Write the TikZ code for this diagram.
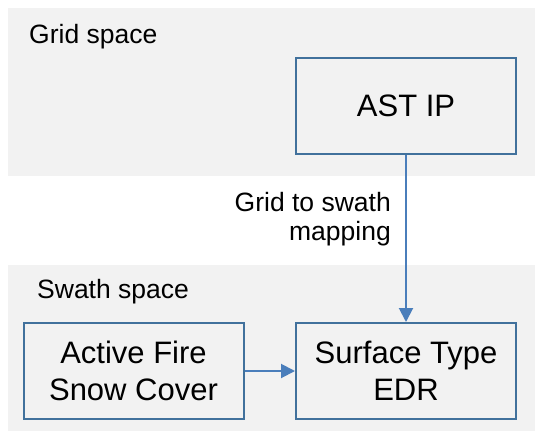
\documentclass[tikz,border=0pt]{standalone}
\usepackage{fontspec}
\setmainfont{Liberation Sans}
\usetikzlibrary{arrows.meta}
\definecolor{bg}{HTML}{F2F2F2}
\definecolor{boxline}{HTML}{41719C}
\definecolor{arrowblue}{HTML}{4A7EBB}
\tikzset{
  region/.style={fill=bg, draw=none},
  procbox/.style={draw=boxline, line width=2pt, fill=bg, minimum width=220pt, minimum height=96pt, align=center, inner sep=0pt, font=\fontsize{31}{37.5}\selectfont},
  smalllabel/.style={inner sep=0pt, font=\fontsize{26.5}{28.5}\selectfont},
  flow/.style={draw=arrowblue, line width=2pt, -{Triangle[length=14pt,width=14pt]}}
}
\begin{document}
\begin{tikzpicture}[x=1pt,y=-1pt]
\useasboundingbox (0,0) rectangle (535,434);
\fill[region] (8,8) rectangle (535,176);
\fill[region] (8,265) rectangle (535,431);
\node[smalllabel, anchor=base west] (gridlbl) at (29,43) {Grid space};
\node[smalllabel, anchor=base west] (swathlbl) at (37,298) {Swath space};
\node[procbox] (ast) at (406,106) {AST IP};
\node[procbox] (fire) at (133.5,371) {Active Fire\\Snow Cover};
\node[procbox] (surf) at (406,371) {Surface Type\\EDR};
\node[smalllabel, anchor=base east, align=right] (map) at (391,240) {Grid to swath\\mapping};
\draw[flow] (ast.south) -- (surf.north);
\draw[flow] (fire.east) -- (surf.west);
\end{tikzpicture}
\end{document}
